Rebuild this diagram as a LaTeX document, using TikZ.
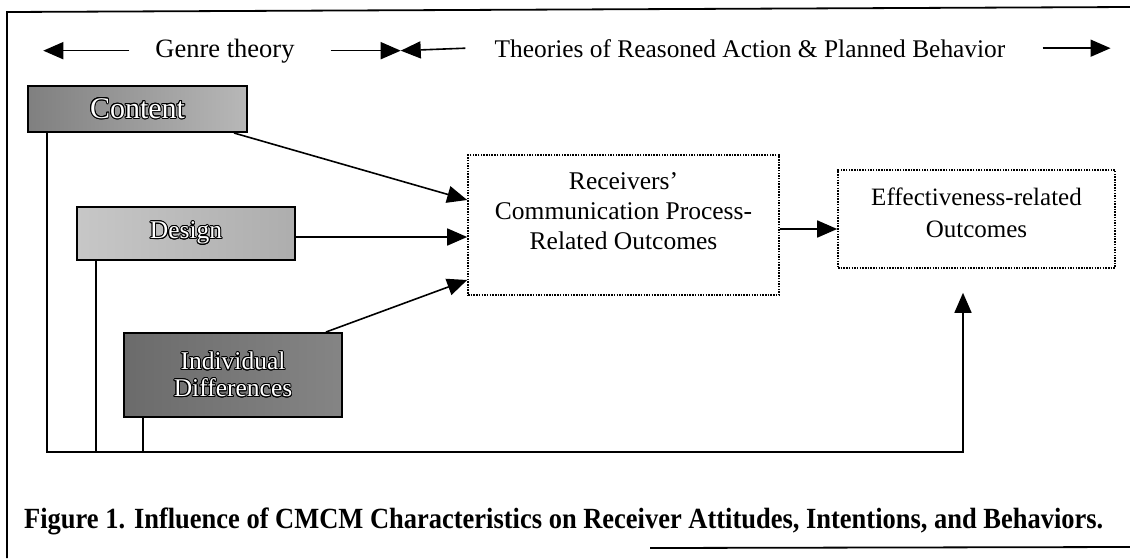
\documentclass[tikz,border=0pt]{standalone}
\usepackage{fontspec}
\setmainfont{Liberation Serif}
\usepackage[copies]{contour}
\contourlength{0.9pt}
\usetikzlibrary{arrows.meta,calc}
\begin{document}
\begin{tikzpicture}[x=1pt,y=-1pt,
  hdrtxt/.style={inner sep=0pt},
  graybox/.style={draw=black, line width=2pt, inner sep=0pt, text=white,
    font=\fontsize{25.5}{27}\selectfont, align=center},
  dotbox/.style={draw=black, line width=1.6pt, dash pattern=on 1.5pt off 1.2pt, inner sep=0pt},
  boxlbl/.style={inner sep=0pt, align=center, text=black},
  conn/.style={line width=1.6pt, -{Triangle[length=20pt,width=17pt]}},
  plainline/.style={line width=1.6pt},
  hdrarrow/.style={line width=1.6pt, -{Triangle[length=20pt,width=17pt]}},
  framel/.style={line width=1.8pt}
]
\useasboundingbox (0,0) rectangle (1130,558);
\fill[white] (0,0) rectangle (1130,558);

% frame (as scanned)
\draw[framel] (7,558) -- (7,12) -- (1130,7);
\draw[framel] (650,548) -- (1130,547);

% header
\node[hdrtxt, anchor=base, font=\fontsize{26.5}{30}\selectfont] (genre) at (225,57) {Genre theory};
\node[hdrtxt, anchor=base, font=\fontsize{25.4}{30}\selectfont] (tra) at (750,57) {Theories of Reasoned Action \& Planned Behavior};
\coordinate (gl) at ([xshift=-112pt]genre.west);
\coordinate (mid) at ([xshift=106pt]genre.east);
\coordinate (tr) at ([xshift=105pt]tra.east);
\draw[hdrarrow] ([xshift=-26pt]genre.west) -- (gl);
\draw[hdrarrow] ([xshift=36pt]genre.east) -- (mid);
\draw[hdrarrow] ([xshift=-29pt]tra.west) -- (mid);
\draw[hdrarrow] ([xshift=37pt]tra.east) -- (tr);

% gray boxes
\node[graybox, left color=black!50, right color=black!28, minimum width=219pt, minimum height=46pt,
  font=\fontsize{30}{32}\selectfont]
  (content) at (137.5,109) {\contour{black}{Content}};
\node[graybox, left color=black!22, right color=black!32, minimum width=218pt, minimum height=53pt]
  (design) at (186,233.5) {\contour{black}{Design}};
\node[graybox, left color=black!58, right color=black!48, minimum width=218pt, minimum height=84pt]
  (id) at (233,375) {\contour{black}{Individual}\\\contour{black}{Differences}};

% dotted boxes
\node[dotbox, minimum width=311pt, minimum height=140pt,
  label={[boxlbl, font=\fontsize{25.5}{30}\selectfont, yshift=13.5pt]center:{Receivers’\\Communication Process-\\Related Outcomes}}]
  (rec) at (623.5,225) {};
\node[dotbox, minimum width=277pt, minimum height=98pt,
  label={[boxlbl, font=\fontsize{25}{32}\selectfont, yshift=6.5pt]center:{Effectiveness-related\\Outcomes}}]
  (eff) at (976.5,219) {};

% connectors
\draw[conn] ([xshift=-14pt]content.south east) -- ([yshift=25pt]rec.west);
\draw[conn] ([yshift=-3.5pt]design.east) -- ([yshift=-12pt]rec.west);
\draw[conn] ([xshift=-17pt]id.north east) -- ([yshift=-55pt]rec.west);
\draw[conn] ([yshift=-4pt]rec.east) -- ([yshift=-10pt]eff.west);

% feedback lines
\coordinate (fb) at ([xshift=-13.5pt,yshift=-183pt]eff.south);
\draw[conn] ([xshift=20pt]content.south west) |- (fb) -- ([xshift=-13.5pt,yshift=-24pt]eff.south);
\coordinate (dd) at ([xshift=20pt]design.south west);
\draw[plainline] (dd) -- (dd |- fb);
\coordinate (ii) at ([xshift=20pt]id.south west);
\draw[plainline] (ii) -- (ii |- fb);

% caption
\node[anchor=base west, inner sep=0pt, font=\bfseries\fontsize{24}{28}\selectfont] (cap) at (24,528)
  {\resizebox{1079pt}{1.22\height}{Figure 1. Influence of CMCM Characteristics on Receiver Attitudes, Intentions, and Behaviors.}};
\end{tikzpicture}
\end{document}
